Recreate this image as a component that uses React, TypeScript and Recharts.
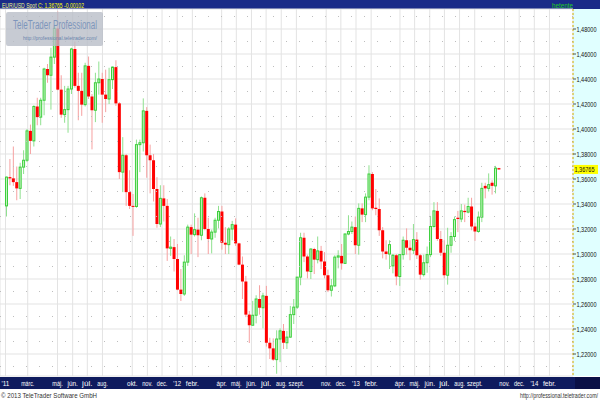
import React from "react";
import {
  ComposedChart,
  Bar,
  XAxis,
  YAxis,
  CartesianGrid,
  ReferenceLine,
} from "recharts";

// weekly EUR/USD candles, first bar = week of 17 Jan 2011, last = 21 Oct 2013
const opens = [
  1.3385, 1.3615, 1.3605, 1.3575, 1.3525, 1.3695, 1.375, 1.3985, 1.3905, 1.418,
  1.4095, 1.423, 1.448, 1.443, 1.4575, 1.4805, 1.4315, 1.4115, 1.4155, 1.432,
  1.464, 1.4345, 1.4305, 1.4195, 1.4505, 1.426, 1.415, 1.437, 1.44, 1.4275,
  1.424, 1.4395, 1.4495, 1.4205, 1.3655, 1.379, 1.3495, 1.3385, 1.338, 1.3875,
  1.389, 1.4145, 1.379, 1.375, 1.352, 1.324, 1.3445, 1.3385, 1.3045, 1.3055,
  1.296, 1.2715, 1.268, 1.2935, 1.3215, 1.3155, 1.3195, 1.315, 1.345, 1.32,
  1.312, 1.3175, 1.327, 1.334, 1.309, 1.3075, 1.32, 1.3235, 1.3085, 1.2915,
  1.278, 1.2515, 1.243, 1.251, 1.264, 1.257, 1.2665, 1.229, 1.2245, 1.2155,
  1.232, 1.2385, 1.229, 1.2335, 1.2515, 1.2575, 1.2815, 1.313, 1.298, 1.286,
  1.304, 1.2955, 1.3025, 1.294, 1.283, 1.271, 1.2745, 1.2975, 1.2985, 1.2925,
  1.316, 1.318, 1.3215, 1.307, 1.3365, 1.3315, 1.3455, 1.364, 1.337, 1.336,
  1.319, 1.302, 1.3, 1.2905, 1.299, 1.282, 1.2995, 1.311, 1.305, 1.303,
  1.3115, 1.299, 1.2835, 1.293, 1.2995, 1.322, 1.3345, 1.312, 1.301, 1.283,
  1.307, 1.314, 1.329, 1.328, 1.3345, 1.3335, 1.338, 1.322, 1.318, 1.3295,
  1.3545, 1.3525, 1.357, 1.3545, 1.36867,
];
const highs = [
  1.362, 1.376, 1.386, 1.37, 1.373, 1.383, 1.4, 1.4035, 1.419, 1.425,
  1.425, 1.449, 1.452, 1.465, 1.4825, 1.494, 1.443, 1.4345, 1.4345, 1.465,
  1.47, 1.445, 1.445, 1.453, 1.458, 1.428, 1.445, 1.454, 1.445, 1.4475,
  1.449, 1.45, 1.455, 1.4215, 1.3935, 1.38, 1.367, 1.348, 1.3915, 1.3915,
  1.4245, 1.4175, 1.3875, 1.38, 1.3615, 1.355, 1.355, 1.344, 1.314, 1.312,
  1.308, 1.288, 1.299, 1.3235, 1.3235, 1.3325, 1.329, 1.346, 1.3485, 1.329,
  1.3195, 1.329, 1.3385, 1.3385, 1.3215, 1.3215, 1.3265, 1.3285, 1.309, 1.298,
  1.2825, 1.2545, 1.2625, 1.267, 1.275, 1.269, 1.2745, 1.233, 1.2325, 1.239,
  1.2405, 1.244, 1.2385, 1.2585, 1.264, 1.2815, 1.317, 1.317, 1.2995, 1.3045,
  1.305, 1.314, 1.3065, 1.3015, 1.2875, 1.28, 1.299, 1.303, 1.308, 1.3165,
  1.331, 1.326, 1.33, 1.3405, 1.3405, 1.3485, 1.371, 1.3655, 1.352, 1.3445,
  1.3215, 1.311, 1.311, 1.3, 1.3, 1.3, 1.314, 1.3205, 1.311, 1.324,
  1.3175, 1.3, 1.2995, 1.306, 1.3305, 1.3415, 1.3415, 1.3185, 1.311, 1.321,
  1.3175, 1.33, 1.3345, 1.34, 1.3395, 1.345, 1.345, 1.325, 1.334, 1.357,
  1.357, 1.3645, 1.359, 1.3705, 1.36895,
];
const lows = [
  1.33, 1.355, 1.3545, 1.343, 1.344, 1.364, 1.3735, 1.38, 1.386, 1.403,
  1.403, 1.411, 1.437, 1.4155, 1.452, 1.431, 1.409, 1.405, 1.397, 1.428,
  1.433, 1.407, 1.4105, 1.418, 1.424, 1.3837, 1.4055, 1.4275, 1.405, 1.4135,
  1.42, 1.432, 1.4185, 1.36, 1.3495, 1.3385, 1.336, 1.3145, 1.337, 1.3655,
  1.382, 1.361, 1.3485, 1.342, 1.321, 1.3215, 1.326, 1.2945, 1.2985, 1.286,
  1.271, 1.2624, 1.2665, 1.2905, 1.3, 1.314, 1.2975, 1.311, 1.319, 1.3,
  1.3005, 1.313, 1.3205, 1.3035, 1.3, 1.3, 1.311, 1.3065, 1.291, 1.264,
  1.2495, 1.2288, 1.243, 1.2445, 1.2515, 1.2405, 1.226, 1.216, 1.2145, 1.2042,
  1.2135, 1.224, 1.224, 1.233, 1.244, 1.256, 1.275, 1.2935, 1.2805, 1.28,
  1.284, 1.2925, 1.288, 1.2805, 1.2695, 1.266, 1.2735, 1.2885, 1.2875, 1.292,
  1.315, 1.316, 1.3, 1.2995, 1.3255, 1.3255, 1.343, 1.335, 1.331, 1.3145,
  1.2965, 1.2955, 1.288, 1.2845, 1.275, 1.2745, 1.2955, 1.2995, 1.295, 1.3,
  1.296, 1.2795, 1.282, 1.285, 1.2975, 1.321, 1.3105, 1.2985, 1.2805, 1.2755,
  1.301, 1.3105, 1.3175, 1.3255, 1.3255, 1.3325, 1.319, 1.3105, 1.317, 1.3255,
  1.3445, 1.35, 1.3475, 1.3485, 1.3675,
];
const closes = [
  1.3615, 1.3605, 1.3575, 1.3525, 1.3695, 1.375, 1.3985, 1.3905, 1.418, 1.4095,
  1.423, 1.448, 1.443, 1.4575, 1.4805, 1.4315, 1.4115, 1.4155, 1.432, 1.464,
  1.4345, 1.4305, 1.4195, 1.4505, 1.426, 1.415, 1.437, 1.44, 1.4275, 1.424,
  1.4395, 1.4495, 1.4205, 1.3655, 1.379, 1.3495, 1.3385, 1.338, 1.3875, 1.389,
  1.4145, 1.379, 1.375, 1.352, 1.324, 1.3445, 1.3385, 1.3045, 1.3055, 1.296,
  1.2715, 1.268, 1.2935, 1.3215, 1.3155, 1.3195, 1.315, 1.345, 1.32, 1.312,
  1.3175, 1.327, 1.334, 1.309, 1.3075, 1.32, 1.3235, 1.3085, 1.2915, 1.278,
  1.2515, 1.243, 1.251, 1.264, 1.257, 1.2665, 1.229, 1.2245, 1.2155, 1.232,
  1.2385, 1.229, 1.2335, 1.2515, 1.2575, 1.2815, 1.313, 1.298, 1.286, 1.304,
  1.2955, 1.3025, 1.294, 1.283, 1.271, 1.2745, 1.2975, 1.2985, 1.2925, 1.316,
  1.318, 1.3215, 1.307, 1.3365, 1.3315, 1.3455, 1.364, 1.3365, 1.336, 1.319,
  1.302, 1.3, 1.3075, 1.299, 1.282, 1.2995, 1.311, 1.305, 1.303, 1.3115,
  1.299, 1.2835, 1.293, 1.2995, 1.322, 1.3345, 1.312, 1.301, 1.283, 1.307,
  1.314, 1.3275, 1.328, 1.3345, 1.3335, 1.338, 1.322, 1.318, 1.3295, 1.3525,
  1.3525, 1.3555, 1.3545, 1.3687, 1.36765,
];

const priceTicks = [
  1.22, 1.24, 1.26, 1.28, 1.3, 1.32, 1.34, 1.36, 1.38, 1.4, 1.42, 1.44, 1.46, 1.48,
];
const dottedLevels = [
  1.21, 1.23, 1.25, 1.27, 1.29, 1.31, 1.33, 1.35, 1.37, 1.39, 1.41, 1.43, 1.45, 1.47, 1.49,
];
const monthLabels: [number, number, string][] = [
  [2011, 0, "'11"], [2011, 2, "márc."], [2011, 4, "máj."], [2011, 5, "jún."],
  [2011, 6, "júl."], [2011, 7, "aug."], [2011, 9, "okt."], [2011, 10, "nov."],
  [2011, 11, "dec."], [2012, 0, "'12"], [2012, 1, "febr."], [2012, 3, "ápr."],
  [2012, 4, "máj."], [2012, 5, "jún."], [2012, 6, "júl."], [2012, 7, "aug."],
  [2012, 8, "szept."], [2012, 10, "nov."], [2012, 11, "dec."], [2013, 0, "'13"],
  [2013, 1, "febr."], [2013, 3, "ápr."], [2013, 4, "máj."], [2013, 5, "jún."],
  [2013, 6, "júl."], [2013, 7, "aug."], [2013, 8, "szept."], [2013, 10, "nov."],
  [2013, 11, "dec."], [2014, 0, "'14"], [2014, 1, "febr."],
];

const X_MIN = -1.96;
const X_MAX = 165.6;
const START = Date.UTC(2011, 0, 17);
const WEEK = 7 * 86400000;

const data = opens.map((o, i) => ({
  i,
  open: o,
  high: highs[i],
  low: lows[i],
  close: closes[i],
}));

const ticks = monthLabels.map(([y, m, label]) => ({
  value: Math.max((Date.UTC(y, m, 1) - START) / WEEK, X_MIN + 1.6),
  label,
}));

const lastClose = closes[closes.length - 1];
const fmt = (v: number) => v.toFixed(5).replace(".", ",");
const FONT = "'Liberation Sans', Arial, sans-serif";

const Candle = (props: any) => {
  const { x, y, width, height, payload } = props;
  if (!payload || height == null) return null;
  const { open, close, high, low } = payload;
  const cx = x + width / 2;
  const top = Math.min(y, y + height);
  const h = Math.abs(height);
  const k = h / (high - low);
  const py = (v: number) => top + (high - v) * k;
  const up = close >= open;
  const bTop = py(Math.max(open, close));
  const bH = Math.max(py(Math.min(open, close)) - bTop, 1);
  if (up) {
    return (
      <g>
        <line x1={cx} x2={cx} y1={top} y2={top + h} stroke="#8fe08f" strokeWidth={1} />
        <rect x={cx - 1} y={bTop} width={2} height={bH} fill="#c4f4c0" stroke="#3ccf3c" strokeWidth={1} />
      </g>
    );
  }
  return (
    <g>
      <line x1={cx} x2={cx} y1={top} y2={top + h} stroke="#f6a0a0" strokeWidth={1} />
      <rect x={cx - 1.5} y={bTop} width={3} height={bH} fill="#ff0000" />
    </g>
  );
};

const MonthTick = ({ x, y, payload }: any) => {
  const t = ticks.find((d) => Math.abs(d.value - payload.value) < 1e-6);
  if (!t) return null;
  return (
    <text
      x={x}
      y={y + 10}
      fill="#ffffff"
      fontSize={7}
      fontFamily={FONT}
      textAnchor="middle"
      textLength={t.label.length * 2.6}
      lengthAdjust="spacingAndGlyphs"
    >
      {t.label}
    </text>
  );
};

// labels are right-aligned to the panel edge so they never spill past it
const PriceTick = ({ x, y, payload }: any) => (
  <text
    x={x + 20.5}
    y={y + 2.5}
    fill="#111"
    fontSize={7}
    fontFamily={FONT}
    textAnchor="end"
    textLength={20}
    lengthAdjust="spacingAndGlyphs"
  >
    {fmt(payload.value)}
  </text>
);

const PriceTag = (props: any) => {
  const vb = props.viewBox || {};
  const x = (vb.x || 0) + (vb.width || 0) + 1;
  const y = vb.y || 0;
  return (
    <g>
      <rect x={x} y={y - 4.5} width={24} height={9} fill="#ffff00" />
      <text
        x={x + 20.5}
        y={y + 2.5}
        fill="#111"
        fontSize={7}
        fontFamily={FONT}
        textAnchor="end"
        textLength={20}
        lengthAdjust="spacingAndGlyphs"
      >
        {fmt(lastClose)}
      </text>
    </g>
  );
};

const App = () => {
  return (
    <div
      style={{
        position: "fixed",
        left: 0,
        top: 0,
        width: 600,
        height: 400,
        background: "#fff",
        overflow: "hidden",
      }}
    >
      <svg width={600} height={400} style={{ position: "absolute", left: 0, top: 0 }}>
        <rect x={0} y={0} width={600} height={9} fill="#1a2b88" />
        <text x={2} y={7.5} fontSize={7} fontFamily={FONT} textLength={82} lengthAdjust="spacingAndGlyphs">
          <tspan fill="#f4f48a">EUR/USD Spot </tspan>
          <tspan fill="#ffff00">C: 1,36765 -0,00102</tspan>
        </text>
        <text x={573} y={7.5} fontSize={7} fontFamily={FONT} fill="#22cc22" textAnchor="end" textLength={21} lengthAdjust="spacingAndGlyphs">
          hetente
        </text>
        <rect x={573} y={9} width={27} height={367} fill="#e0ffff" />
        <rect x={0} y={377} width={575} height={12} fill="#0f1b5e" />
        <rect x={575} y={377} width={25} height={12} fill="#0a1046" />
        <text x={1} y={397.5} fontSize={7} fontFamily={FONT} fill="#333" textLength={96} lengthAdjust="spacingAndGlyphs">
          © 2013 TeleTrader Software GmbH
        </text>
        <text x={598} y={397.5} fontSize={7} fontFamily={FONT} fill="#333" textAnchor="end" textLength={78} lengthAdjust="spacingAndGlyphs">
          http://professional.teletrader.com/
        </text>
      </svg>
      <div style={{ position: "absolute", left: 0, top: 0 }}>
        <ComposedChart
          width={600}
          height={389}
          data={data}
          margin={{ top: 9, right: 0, bottom: 0, left: 0 }}
        >
          <CartesianGrid stroke="#e3e3e3" />
          {dottedLevels.map((v) => (
            <ReferenceLine key={v} y={v} stroke="#bdbdbd" strokeDasharray="1 12" ifOverflow="hidden" />
          ))}
          <XAxis
            dataKey="i"
            type="number"
            domain={[X_MIN, X_MAX]}
            allowDataOverflow
            ticks={ticks.map((t) => t.value)}
            interval={0}
            tick={<MonthTick />}
            tickSize={0}
            tickMargin={0}
            tickLine={false}
            axisLine={false}
            height={13}
          />
          <YAxis
            orientation="right"
            type="number"
            domain={[1.2024, 1.496]}
            allowDataOverflow
            ticks={priceTicks}
            interval={0}
            width={27}
            tickSize={3}
            tickMargin={0}
            tick={<PriceTick />}
            tickLine={{ stroke: "#555" }}
            axisLine={{ stroke: "#d2b400", strokeDasharray: "2 2" }}
          />
          <Bar
            dataKey={(d: any) => [d.low, d.high]}
            barSize={3}
            shape={<Candle />}
            isAnimationActive={false}
          />
          <ReferenceLine y={lastClose} stroke="none" ifOverflow="visible" label={<PriceTag />} />
        </ComposedChart>
      </div>
      <svg width={600} height={400} style={{ position: "absolute", left: 0, top: 0, pointerEvents: "none" }}>
        <rect x={6} y={12} width={97} height={34} rx={2} fill="#b9bec8" opacity={0.8} />
        <text x={13} y={29} fontSize={12} fontFamily={FONT} fill="#7d95bb" textLength={84} lengthAdjust="spacingAndGlyphs">
          TeleTrader Professional
        </text>
        <text x={23} y={40} fontSize={6} fontFamily={FONT} fill="#6a84ad" textLength={74} lengthAdjust="spacingAndGlyphs">
          http://professional.teletrader.com/
        </text>
      </svg>
    </div>
  );
};

export default App;
